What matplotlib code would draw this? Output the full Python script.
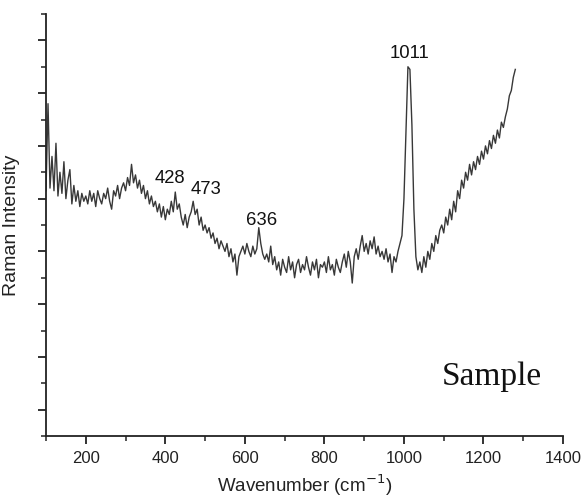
import numpy as np
import matplotlib

matplotlib.use("Agg")

import matplotlib.pyplot as plt
from matplotlib.ticker import MultipleLocator, FixedLocator, NullFormatter

plt.rcParams["font.family"] = ["Liberation Sans", "DejaVu Sans"]

# Raman spectrum, one value every 5 cm-1 from 100 to 1280
WAVENUMBER_START = 100
WAVENUMBER_STEP = 5
intensity = [
    9.3, 12.6, 9.4, 10.6, 9.3, 11.1, 9.1, 10.0, 9.2, 10.4,   # 100-145
    9.0, 9.7, 10.1, 8.8, 9.5, 8.9, 9.3, 8.7, 9.2, 8.9,       # 150-195
    9.1, 8.8, 9.3, 8.9, 9.2, 8.7, 9.3, 9.0, 8.8, 9.2,        # 200-245
    9.0, 9.4, 8.9, 8.6, 9.3, 9.1, 9.5, 9.0, 9.4, 9.6,        # 250-295
    9.3, 9.8, 9.5, 10.3, 9.6, 9.9, 9.4, 9.7, 9.2, 9.5,       # 300-345
    9.0, 9.3, 8.8, 9.1, 8.7, 8.9, 8.5, 8.8, 8.3, 8.7,        # 350-395
    8.2, 8.6, 8.4, 8.9, 8.5, 9.25, 8.6, 8.8, 8.3, 8.0,       # 400-445
    8.4, 7.9, 8.3, 8.5, 8.9, 8.4, 8.6, 8.0, 8.3, 7.8,        # 450-495
    8.0, 7.7, 7.9, 7.5, 7.7, 7.3, 7.5, 7.1, 7.4, 7.2,        # 500-545
    7.0, 7.3, 6.8, 7.1, 6.6, 6.9, 6.1, 6.8, 7.0, 7.2,        # 550-595
    6.9, 7.3, 7.0, 6.8, 7.2, 6.9, 7.1, 7.9, 7.3, 6.9,        # 600-645
    6.7, 6.9, 6.6, 7.2, 6.5, 6.8, 6.3, 6.6, 6.1, 6.7,        # 650-695
    6.4, 6.2, 6.8, 6.3, 6.6, 6.0, 6.5, 6.7, 6.2, 6.5,        # 700-745
    6.3, 6.8, 6.4, 6.1, 6.6, 6.3, 6.7, 6.0, 6.5, 6.4,        # 750-795
    6.6, 6.2, 6.8, 6.3, 6.5, 6.1, 6.7, 6.4, 6.2, 6.6,        # 800-845
    6.9, 6.4, 7.0, 6.6, 5.8, 6.8, 7.1, 6.7, 7.2, 7.6,        # 850-895
    7.0, 7.3, 6.9, 7.4, 7.1, 7.55, 6.9, 7.2, 6.8, 7.0,       # 900-945
    6.7, 7.1, 6.6, 6.9, 6.2, 6.8, 6.6, 7.0, 7.3, 7.6,        # 950-995
    9.0, 11.5, 14.0, 13.9, 11.8, 8.6, 6.8, 6.3, 6.6, 6.2,    # 1000-1045
    6.8, 6.4, 7.0, 6.7, 7.3, 7.0, 7.6, 7.3, 7.8, 8.0,        # 1050-1095
    7.7, 8.3, 8.0, 8.6, 8.2, 8.9, 8.5, 9.3, 9.0, 9.7,        # 1100-1145
    9.4, 10.0, 9.7, 10.3, 9.9, 10.4, 10.1, 10.6, 10.3, 10.8, # 1150-1195
    10.5, 11.0, 10.7, 11.2, 10.9, 11.4, 11.1, 11.6, 11.3, 11.9,  # 1200-1245
    11.7, 12.1, 12.4, 12.9, 13.1, 13.6, 13.9,                # 1250-1280
]
wavenumber = WAVENUMBER_START + WAVENUMBER_STEP * np.arange(len(intensity))

peak_labels = ["428", "473", "636", "1011"]
peak_label_x = [412, 502, 643, 1015]
peak_label_y = [9.58, 9.17, 7.99, 14.32]

fig = plt.figure(figsize=(5.84, 4.97), dpi=100)
ax = fig.add_axes([0.0788, 0.1227, 0.8853, 0.8491])

ax.plot(wavenumber, intensity, color="#383838", linewidth=1.0)

for label, lx, ly in zip(peak_labels, peak_label_x, peak_label_y):
    ax.text(lx, ly, label, ha="center", va="baseline", fontsize=13.3, color="#111111")

ax.text(1096, 1.93, "Sample", ha="left", va="baseline", fontsize=24,
        family=["Liberation Serif", "DejaVu Serif"], color="#111111")

ax.set_xlim(100, 1400)
ax.set_ylim(0, 16)

ax.xaxis.set_major_locator(FixedLocator([200, 400, 600, 800, 1000, 1200, 1400]))
ax.xaxis.set_minor_locator(FixedLocator([100, 300, 500, 700, 900, 1100, 1300]))
ax.yaxis.set_major_locator(FixedLocator([1, 3, 5, 7, 9, 11, 13, 15]))
ax.yaxis.set_minor_locator(MultipleLocator(2))
ax.yaxis.set_major_formatter(NullFormatter())

ax.tick_params(axis="both", which="major", direction="out", length=5.5, width=1.3,
               color="#222222", labelsize=12, labelcolor="#222222", pad=5)
ax.tick_params(axis="both", which="minor", direction="out", length=3.5, width=1.1,
               color="#222222")

for side in ("top", "right"):
    ax.spines[side].set_visible(False)
for side in ("left", "bottom"):
    ax.spines[side].set_linewidth(1.3)
    ax.spines[side].set_color("#222222")

ax.set_xlabel("Wavenumber (cm$^{-1}$)", fontsize=13.5, color="#222222", labelpad=5)
ax.set_ylabel("Raman Intensity", fontsize=14, color="#222222", labelpad=8)

fig.savefig("out.png", dpi=100)
